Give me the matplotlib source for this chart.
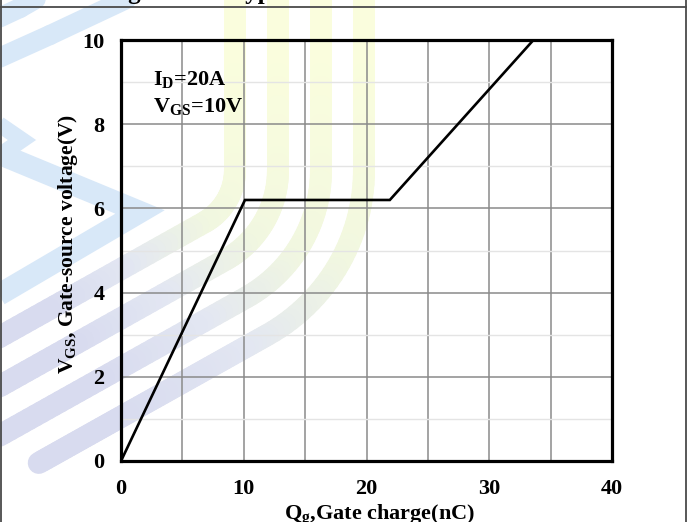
import numpy as np
import matplotlib
matplotlib.use("Agg")
import matplotlib.pyplot as plt
from matplotlib.collections import LineCollection
from matplotlib.colors import LinearSegmentedColormap

# gate charge curve
qg = [0, 10.1, 21.9, 33.6]       # nC
vgs = [0, 6.2, 6.2, 10.0]        # V

x_ticks = [0, 5, 10, 15, 20, 25, 30, 35, 40]
x_labels = ['0', '', '10', '', '20', '', '30', '', '40']
y_ticks = [0, 2, 4, 6, 8, 10]
y_minor = [1, 3, 5, 7, 9]

plt.rcParams['font.family'] = 'Liberation Serif'
plt.rcParams['font.weight'] = 'bold'
plt.rcParams['axes.labelweight'] = 'bold'
plt.rcParams['mathtext.fontset'] = 'custom'
plt.rcParams['mathtext.rm'] = 'Liberation Serif:bold'
plt.rcParams['mathtext.it'] = 'Liberation Serif:bold'
plt.rcParams['mathtext.bf'] = 'Liberation Serif:bold'

W, H = 694, 522
fig = plt.figure(figsize=(W / 100, H / 100), dpi=100)

# page layer in pixel units: faint logo behind the chart and the table frame
bg = fig.add_axes([0, 0, 1, 1], zorder=-1)
bg.set_xlim(0, W)
bg.set_ylim(H, 0)
bg.axis('off')

logo = LinearSegmentedColormap.from_list(
    'logo', ['#fafddd', '#f1f7e0', '#e3e7f2', '#d8dbef'])


def stroke(xs, ys, width, colors, cap='round', join='round'):
    pts = np.column_stack([xs, ys])
    segs = np.stack([pts[:-1], pts[1:]], axis=1)
    lc = LineCollection(segs, colors=colors, linewidths=width * 0.72,
                        capstyle=cap, joinstyle=join)
    bg.add_collection(lc)


# four bands: down from the top, bend, then off to the lower left
cx, cy = 175, 170
ang = np.radians(60.75)
d = np.array([-np.cos(np.radians(29.25)), np.sin(np.radians(29.25))])
for i in range(4):
    r = 60 + 43 * i
    xv = np.full(30, cx + r)
    yv = np.linspace(-15, cy, 30)
    th = np.linspace(0, ang, 30)
    xa = cx + r * np.cos(th)
    ya = cy + r * np.sin(th)
    run = 262 if i == 3 else 420
    t = np.linspace(0, run, 60)
    xd = xa[-1] + d[0] * t
    yd = ya[-1] + d[1] * t
    xs = np.concatenate([xv, xa, xd])
    ys = np.concatenate([yv, ya, yd])
    cyv = np.clip((ys - 60) / 320, 0, 1)
    cxv = np.clip((cx + r - xs) / (cx + r - 20), 0, 1)
    c = np.clip(0.45 * cyv + 0.75 * cxv, 0, 1)
    stroke(xs, ys, 22, logo(c))

# light blue pieces on the far left
sky = '#d8e8f8'
stroke([-10, 20, 55], [22, 8, -12], 20, sky)
stroke([-10, 50, 150], [62, 35, -12], 20, sky)
bg.plot([-10, 22, -10], [118, 140, 162], color=sky, lw=16 * 0.72,
        solid_joinstyle='miter', solid_capstyle='butt')
bg.plot([-10, 140, -10], [150, 212, 300], color=sky, lw=22 * 0.72,
        solid_joinstyle='miter', solid_capstyle='butt')

# table frame around the figure
frame_c = '#4a4a4a'
bg.plot([0, 686], [7, 7], color=frame_c, lw=1.3)
bg.plot([1, 1], [0, H], color=frame_c, lw=1.3)
bg.plot([686, 686], [0, H], color=frame_c, lw=1.3)

# caption line above, mostly cut off by the page edge
fig.text(15 / W, 1 - 4 / H, 'Gate Charge Curve Typical', fontsize=18,
         va='bottom', ha='left')

ax = fig.add_axes([121 / W, 1 - 461 / H, (612 - 121) / W, (461 - 40) / H])
ax.set_facecolor('none')

ax.plot(qg, vgs, color='black', lw=1.9, solid_joinstyle='miter', zorder=3)

ax.set_xlim(0, 40)
ax.set_ylim(0, 10)
ax.set_xticks(x_ticks)
ax.set_xticklabels(x_labels)
ax.set_yticks(y_ticks)
ax.set_yticks(y_minor, minor=True)
ax.tick_params(which='both', length=0)
ax.tick_params(axis='x', pad=13, labelsize=16)
ax.tick_params(axis='y', pad=12, labelsize=16)

ax.grid(which='major', color='#8a8a8a', lw=1.1)
ax.grid(which='minor', axis='y', color='#e4e4e4', lw=1.0)
ax.set_axisbelow(True)
for sp in ax.spines.values():
    sp.set_linewidth(2.3)
    sp.set_color('black')
    sp.set_zorder(4)

ax.text(2.6, 8.93, r'$\mathrm{I_D}$=20A', fontsize=16, va='baseline')
ax.text(2.6, 8.29, r'$\mathrm{V_{GS}}$=10V', fontsize=16, va='baseline')

ax.set_xlabel(r'$\mathrm{Q_g}$,Gate charge(nC)', fontsize=16)
ax.xaxis.label.set_va('baseline')
ax.xaxis.set_label_coords((380 - 121) / 491, -(520 - 461) / 421)
ax.set_ylabel(r'$\mathrm{V_{GS}}$, Gate-source voltage(V)', fontsize=15.5)
ax.yaxis.set_label_coords(-(121 - 68) / 491, (461 - 244) / 421)
ax.yaxis.label.set_va('center')

fig.savefig('out.png', dpi=100)
